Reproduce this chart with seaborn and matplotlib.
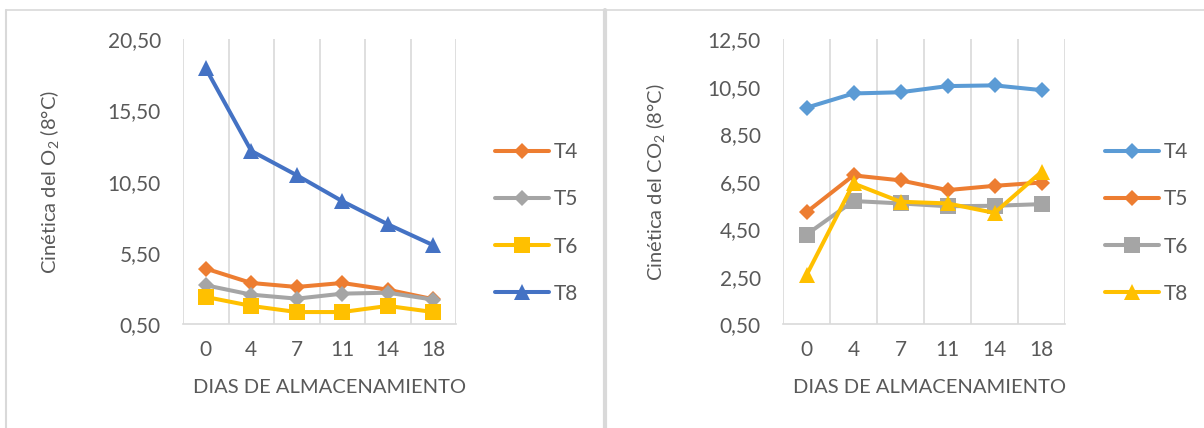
import numpy as np
import pandas as pd
import matplotlib
matplotlib.use("Agg")
import matplotlib.pyplot as plt
import seaborn as sns
from matplotlib.lines import Line2D

# ---------------- data ----------------
dias = ["0", "4", "7", "11", "14", "18"]
series = ["T4", "T5", "T6", "T8"]

o2_t4 = [4.41, 3.40, 3.12, 3.40, 2.93, 2.26]
o2_t5 = [3.24, 2.58, 2.30, 2.65, 2.72, 2.23]
o2_t6 = [2.42, 1.79, 1.36, 1.36, 1.79, 1.36]
o2_t8 = [18.46, 12.67, 10.96, 9.14, 7.52, 6.05]

co2_t4 = [9.62, 10.22, 10.27, 10.53, 10.56, 10.36]
co2_t5 = [5.22, 6.77, 6.56, 6.15, 6.33, 6.47]
co2_t6 = [4.28, 5.69, 5.59, 5.47, 5.49, 5.56]
co2_t8 = [2.57, 6.43, 5.66, 5.59, 5.19, 6.92]

o2_ticks = [0.5, 5.5, 10.5, 15.5, 20.5]
co2_ticks = [0.5, 2.5, 4.5, 6.5, 8.5, 10.5, 12.5]


def long_df(vals):
    rows = []
    for s, v in zip(series, vals):
        for d, y in zip(dias, v):
            rows.append({"dia": d, "serie": s, "valor": y})
    return pd.DataFrame(rows)


df_o2 = long_df([o2_t4, o2_t5, o2_t6, o2_t8])
df_co2 = long_df([co2_t4, co2_t5, co2_t6, co2_t8])

# ---------------- style ----------------
sns.set_theme(style="white")
plt.rcParams["font.family"] = ["Lato", "DejaVu Sans"]
plt.rcParams["mathtext.fontset"] = "custom"
plt.rcParams["mathtext.rm"] = "Lato"
TXT = "#595959"
GRID = "#d9d9d9"
FS_TICK = 15
FS_LAB = 14.5
FS_LEG = 15
LW = 2.9

pal_o2 = {"T4": "#ED7D31", "T5": "#A5A5A5", "T6": "#FFC000", "T8": "#4472C4"}
pal_co2 = {"T4": "#5B9BD5", "T5": "#ED7D31", "T6": "#A5A5A5", "T8": "#FFC000"}
mk = {"T4": "D", "T5": "D", "T6": "s", "T8": "^"}
ms_map = {"D": 7.8, "s": 11.0, "^": 11.5}

W, H = 1204, 428
fig = plt.figure(figsize=(W / 100, H / 100), dpi=100)
fig.patch.set_facecolor("white")

axL = fig.add_axes([183 / W, 1 - 324.3 / H, 273 / W, 285 / H])
axR = fig.add_axes([783 / W, 1 - 324.3 / H, 282 / W, 285 / H])


def draw(ax, df, pal, ticks, ylabel, leg_x, xlab_x, ylab_x):
    sns.lineplot(data=df, x="dia", y="valor", hue="serie", style="serie",
                 palette=pal, markers=mk, dashes=False, sort=False,
                 linewidth=LW, markeredgewidth=0, legend=False, ax=ax)
    for ln in ax.lines:
        m = ln.get_marker()
        if m in ms_map:
            ln.set_markersize(ms_map[m])
    ax.set_xlim(-0.5, len(dias) - 0.5)
    ax.set_ylim(ticks[0], ticks[-1])
    ax.set_yticks(ticks)
    ax.set_yticklabels([f"{t:.2f}".replace(".", ",") for t in ticks])
    ax.set_xticks(range(len(dias)))
    ax.set_xticklabels(dias)
    ax.set_xticks(np.arange(-0.5, len(dias), 1.0), minor=True)
    ax.grid(False)
    ax.grid(which="minor", axis="x", color=GRID, lw=1.2)
    ax.tick_params(which="both", length=0, colors=TXT, labelsize=FS_TICK)
    ax.tick_params(axis="y", pad=16)
    ax.tick_params(axis="x", pad=11)
    for sp in ["left", "right", "top"]:
        ax.spines[sp].set_visible(False)
    ax.spines["bottom"].set_color(GRID)
    ax.spines["bottom"].set_linewidth(1.2)
    ax.set_xlabel("DIAS DE ALMACENAMIENTO", fontsize=FS_LAB, color=TXT)
    ax.xaxis.set_label_coords(xlab_x, -0.2235)
    ax.xaxis.label.set_verticalalignment("center")
    ax.set_ylabel(ylabel, fontsize=FS_LAB, color=TXT)
    ax.yaxis.set_label_coords(ylab_x, 0.5)
    ax.yaxis.label.set_verticalalignment("center")
    handles = [Line2D([], [], color=pal[s], lw=LW, marker=mk[s],
                      ms=ms_map[mk[s]], markeredgewidth=0) for s in series]
    ax.legend(handles, series, loc="center left",
              bbox_to_anchor=(leg_x, 1 - 223 / H), bbox_transform=fig.transFigure,
              frameon=False, fontsize=FS_LEG, handlelength=2.6, handletextpad=0.2,
              labelspacing=1.3, borderpad=0, borderaxespad=0, labelcolor=TXT)


draw(axL, df_o2, pal_o2, o2_ticks, "Cinética del O$_{\\mathregular{2}}$ (8°C)",
     495 / W, 0.538, (50 - 183) / 273)
draw(axR, df_co2, pal_co2, co2_ticks, "Cinética del CO$_{\\mathregular{2}}$ (8°C)",
     1105 / W, 0.518, (656 - 783) / 282)

# panel borders
fig.add_artist(Line2D([6 / W, 1], [1 - 10 / H, 1 - 10 / H], transform=fig.transFigure,
                      color=GRID, lw=1.2))
fig.add_artist(Line2D([6 / W, 6 / W], [0, 1 - 10 / H], transform=fig.transFigure,
                      color=GRID, lw=1.5))
fig.add_artist(Line2D([605 / W, 605 / W], [0, 1 - 10 / H], transform=fig.transFigure,
                      color=GRID, lw=3))

fig.savefig("out.png", dpi=100, facecolor="white")
